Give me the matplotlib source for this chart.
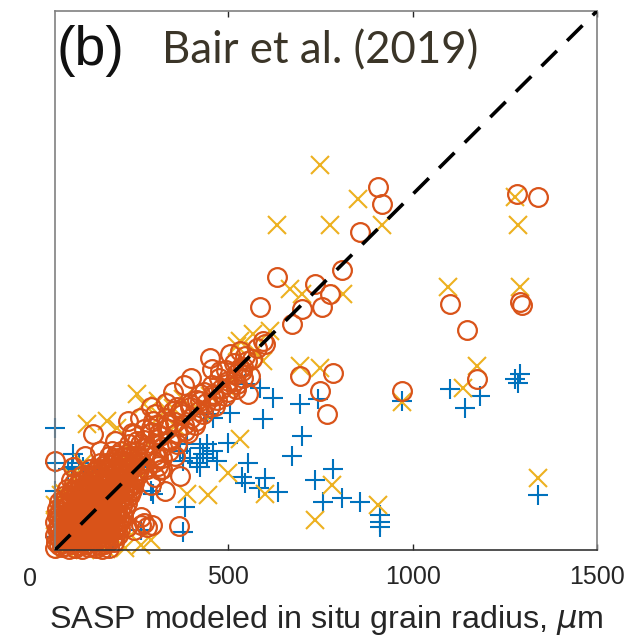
import matplotlib
matplotlib.use("Agg")
import matplotlib.pyplot as plt
import matplotlib.transforms as mtransforms

# retrieved grain radius vs SASP modeled in situ radius (um)
plus_x = [1291, 1278, 1286, 1102, 1183, 1142, 972, 587, 695, 744, 505, 595, 701, 673,
          554, 538, 546, 600, 636, 582, 736, 785, 758, 809, 858, 912, 912, 912, 1340,
          383, 378, 397, 432, 459, 424, 470, 500, 389, 443, 416, 424, 443, 378, 370,
          31, 80, 31, 459, 297, 107, 31, 262, 180, 94, 289, 262, 99, 66, 31, 546,
          622, 443, 153, 131, 118, 77]
plus_y = [511, 496, 485, 469, 450, 417, 436, 472, 428, 442, 404, 388, 341, 287,
          268, 228, 214, 225, 187, 198, 220, 252, 160, 173, 160, 125, 106, 92, 179,
          146, 79, 282, 293, 301, 255, 274, 322, 320, 320, 266, 309, 282, 274, 301,
          363, 293, 192, 390, 184, 255, 65, 84, 38, 268, 192, 255, 192, 252, 266, 482,
          444, 401, 247, 233, 220, 255]

cross_x = [749, 852, 633, 776, 917, 1278, 1286, 668, 701, 812, 1096, 1291, 568, 595,
           695, 749, 1175, 1137, 970, 533, 524, 533, 500, 389, 446, 600, 782, 736,
           906, 1340, 253, 308, 270, 118, 172, 199, 351, 378,
           316, 356, 424, 451, 492, 546, 573, 614, 289, 235, 153,
           58, 112, 167, 221, 262, 289, 235, 31, 31, 45, 107, 80, 55,
           100, 150, 200, 80, 250]
cross_y = [1079, 986, 916, 916, 916, 992, 916, 743, 729, 729, 748, 748, 618, 545,
           531, 526, 531, 472, 433, 599, 585, 333, 241, 184, 179, 184, 206, 111,
           152, 225, 455, 436, 428, 374, 382, 363, 417, 442,
           396, 369, 409, 450, 477, 545, 572, 626, 328, 301, 247,
           32, 31, 33, 35, 43, 57, 70, 111, 152, 179, 266, 228, 186,
           120, 150, 200, 80, 250]

# scattered circles away from the origin cluster
circ_x = [906, 917, 858, 1283, 1340, 809, 633, 736, 776, 587, 701, 755, 673, 1102,
          1291, 1297, 1148, 600, 579, 695, 785, 749, 1175, 972, 554, 768, 595, 533,
          451, 457, 538, 524, 551, 365, 280, 31, 134, 229, 397, 370, 335, 308, 270,
          243, 459, 497, 424, 289, 253,
          505, 533, 424, 362, 297, 243, 226, 262, 308, 243, 262, 199, 161, 107, 72, 80,
          343, 383, 411, 465, 492, 519, 478, 560, 356, 316, 289, 329, 370, 207, 235,
          180, 140, 112, 153, 194, 207, 180, 226, 262, 294, 270,
          280, 300, 295, 320, 315, 340, 335, 360, 355, 380, 375, 400, 395, 420, 415,
          440, 435, 460, 455, 480, 475, 500, 495, 520, 515, 540, 545, 565, 270, 290,
          260, 310, 330, 350, 300, 320,
          210, 230, 250, 240, 270, 260, 300, 290, 330, 350, 380, 400, 230, 200, 280,
          310, 340, 360, 390, 410, 430, 450, 470, 500, 520, 540, 220, 185, 320, 300]
circ_y = [1019, 973, 897, 1000, 992, 794, 775, 756, 729, 694, 688, 694, 645, 702,
          707, 699, 631, 593, 580, 504, 512, 463, 496, 463, 455, 401, 599, 572,
          553, 523, 518, 482, 545, 95, 92, 274, 347, 382, 428, 409, 374, 347, 309,
          274, 455, 482, 436, 363, 328,
          564, 526, 455, 420, 382, 347, 293, 274, 282, 84, 119, 130, 165, 201, 220, 255,
          328, 355, 382, 423, 450, 490, 518, 504, 287, 247, 206, 192, 233, 165, 192,
          233, 247, 287, 301, 328, 274, 84, 92, 98, 98, 103,
          300, 290, 320, 310, 340, 330, 360, 350, 380, 370, 400, 390, 420, 410, 440,
          430, 460, 450, 480, 470, 500, 490, 520, 510, 540, 530, 560, 550, 330, 350,
          320, 370, 390, 410, 270, 280,
          300, 320, 300, 350, 360, 390, 400, 420, 430, 460, 480, 500, 270, 280, 250,
          260, 300, 320, 350, 370, 400, 420, 440, 460, 470, 500, 250, 300, 250, 230]

# dense cluster of circles near the origin
dense_x = [31, 48, 68, 84, 104, 120, 140, 157, 176,
           33, 50, 66, 87, 102, 122, 138, 159, 174, 190,
           31, 49, 69, 85, 105, 119, 141, 156, 177, 193, 201,
           34, 51, 67, 88, 103, 123, 139, 158, 176, 195, 205,
           31, 48, 70, 84, 106, 121, 142, 157, 178, 192, 210,
           35, 52, 66, 89, 102, 124, 138, 160, 175, 196, 214,
           36, 55, 71, 90, 108, 125, 145, 161, 180, 198, 220,
           41, 58, 77, 94, 113, 130, 149, 167, 185, 204, 226,
           51, 70, 87, 106, 123, 142, 159, 178, 196, 214, 234,
           63, 80, 99, 116, 135, 153, 171, 190, 207, 224, 240,
           82, 99, 118, 135, 154, 171, 190, 208, 226, 245,
           101, 120, 137, 156, 173, 192, 210, 229, 251,
           126, 143, 162, 180, 199, 216, 236, 257,
           151, 169, 188, 205, 225, 243, 264,
           176, 195, 213, 232, 251, 273,
           40, 58, 76, 94, 112, 130, 148, 166,
           40, 58, 77, 95, 113, 131, 149, 167, 184,
           40, 59, 77, 96, 113, 131, 150, 168, 186,
           42, 60, 78, 95, 114, 132, 149, 167, 186, 200,
           40, 58, 77, 95, 113, 131, 150, 168, 185, 203,
           44, 62, 80, 98, 116, 134, 152, 170, 189, 207,
           48, 66, 85, 103, 121, 139, 157, 176, 194, 212,
           58, 76, 95, 113, 131, 150, 168, 187, 205, 224,
           72, 90, 108, 126, 145, 163, 181, 199, 217, 233,
           90, 108, 127, 145, 163, 181, 200, 218, 236,
           110, 128, 147, 165, 183, 201, 220, 240,
           135, 153, 171, 190, 208, 226, 246,
           160, 178, 197, 215, 234, 254]
dense_y = [35, 37, 33, 36, 34, 38, 35, 33, 36,
           52, 50, 54, 51, 53, 49, 52, 55, 51, 53,
           70, 72, 68, 71, 69, 73, 70, 67, 71, 69, 72,
           88, 86, 90, 87, 89, 85, 88, 91, 87, 89, 86,
           106, 108, 104, 107, 105, 109, 106, 103, 107, 105, 108,
           124, 122, 126, 123, 125, 121, 124, 127, 123, 125, 122,
           142, 144, 140, 143, 141, 145, 142, 139, 143, 141, 144,
           160, 158, 162, 159, 161, 157, 160, 163, 159, 161, 158,
           178, 180, 176, 179, 177, 181, 178, 175, 179, 177, 180,
           196, 194, 198, 195, 197, 193, 196, 199, 195, 197, 194,
           214, 216, 212, 215, 213, 217, 214, 211, 215, 213,
           232, 230, 234, 231, 233, 229, 232, 235, 231,
           250, 252, 248, 251, 249, 253, 250, 247,
           268, 266, 270, 267, 269, 265, 268,
           286, 288, 284, 287, 285, 289,
           44, 42, 46, 43, 45, 41, 44, 47,
           62, 60, 64, 61, 63, 59, 62, 65, 61,
           80, 82, 78, 81, 79, 83, 80, 77, 81,
           98, 96, 100, 97, 99, 95, 98, 101, 97, 99,
           116, 118, 114, 117, 115, 119, 116, 113, 117, 115,
           134, 132, 136, 133, 135, 131, 134, 137, 133, 135,
           152, 154, 150, 153, 151, 155, 152, 149, 153, 151,
           170, 168, 172, 169, 171, 167, 170, 173, 169, 171,
           188, 190, 186, 189, 187, 191, 188, 185, 189, 187,
           206, 204, 208, 205, 207, 203, 206, 209, 205,
           224, 226, 222, 225, 223, 227, 224, 221,
           242, 240, 244, 241, 243, 239, 242,
           260, 262, 258, 261, 259, 263]

lim = [30, 1500]
xticks = [500, 1000, 1500]

fig = plt.figure(figsize=(6.34, 6.37), dpi=100)
ax = fig.add_axes([0.0868, 0.1366, 0.8549, 0.8462])

ax.plot(plus_x, plus_y, linestyle='none', marker='+', ms=14, mew=1.5,
        color='#0072BD', clip_on=False)
ax.plot(cross_x, cross_y, linestyle='none', marker='x', ms=12.5, mew=1.5,
        color='#EDB120', clip_on=False)
ax.plot(circ_x + dense_x, circ_y + dense_y, linestyle='none', marker='o', ms=13.5,
        mew=1.6, mfc='none', mec='#D95319', clip_on=False)
ax.plot(lim, lim, color='black', lw=2.6, linestyle=(0, (6, 4)), zorder=5)

ax.set_xlim(lim)
ax.set_ylim(lim)
ax.set_xticks(xticks)
ax.set_yticks([])
ax.tick_params(axis='x', direction='in', length=4, width=1, pad=11,
               top=True, labelsize=18, colors='#262626', labelfontfamily='Liberation Sans')
for side in ['left', 'top', 'right']:
    ax.spines[side].set_color('#808080')
    ax.spines[side].set_linewidth(1.2)
ax.spines['bottom'].set_color('#333333')
ax.spines['bottom'].set_linewidth(1.2)

# zero label sits left of the axis start
trans = mtransforms.blended_transform_factory(ax.transData, ax.transAxes)
ax.text(-37, -0.032, '0', transform=trans, ha='center', va='top', fontsize=18,
        color='#262626', family='Liberation Sans', clip_on=False)

ax.set_xlabel(r'SASP modeled in situ grain radius, $\mu$m', fontsize=23.2,
              family='Liberation Sans', color='#262626', labelpad=10)

fig.text(0.089, 0.92, '(b)', fontsize=40, family='Liberation Sans',
         color='#111111', ha='left', va='center')
fig.text(0.2555, 0.901, 'Bair et al. (2019)', fontsize=31.5, family='Lato',
         color='#3b3528', ha='left', va='baseline')

fig.savefig('out.png', dpi=100)
